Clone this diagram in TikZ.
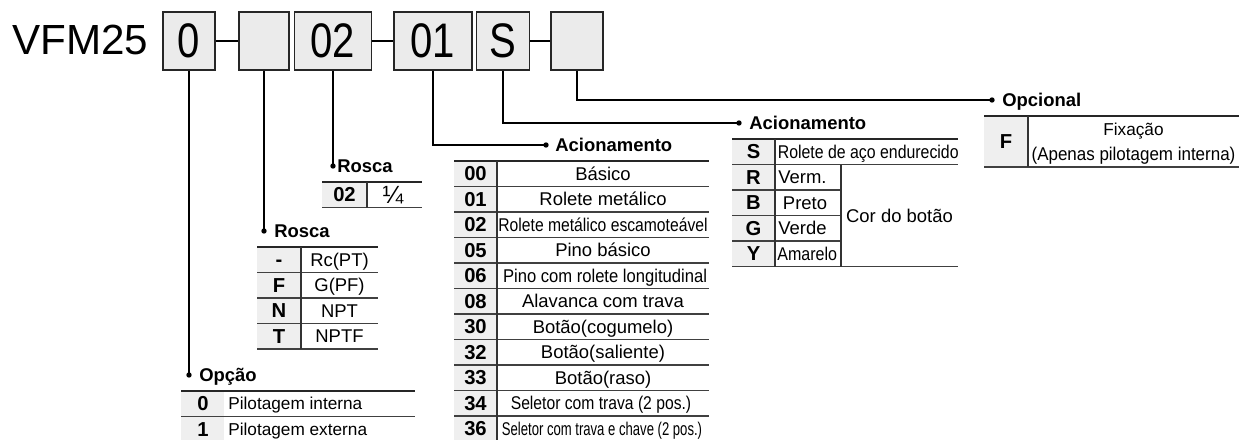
\documentclass[tikz,border=0pt]{standalone}
\usepackage{fontspec}
\setmainfont{Liberation Sans}
\usepackage{graphicx}
\usetikzlibrary{positioning}

\definecolor{boxfill}{HTML}{EBEBEB}
\definecolor{codefill}{HTML}{EFEFEF}

\newcommand{\tallnum}[1]{\scalebox{0.95}[1.15]{#1}}
\newcommand{\narrow}[2]{\scalebox{#1}[1]{#2}}

\tikzset{
  codebox/.style={draw=black!85,line width=1.1pt,fill=boxfill,inner sep=0pt,minimum height=1.16cm,font=\fontsize{24}{26}\selectfont},
  leader/.style={line width=1.1pt,black},
  hdr/.style={anchor=west,inner sep=0pt,text height=7.5pt,text depth=0pt,font=\fontsize{10.5}{12}\selectfont\bfseries},
  cd/.style={inner sep=0pt,text height=8pt,text depth=0pt,font=\fontsize{11.5}{13}\selectfont\bfseries},
  txt/.style={inner sep=0pt,text height=7.5pt,text depth=0pt,font=\fontsize{10.5}{12}\selectfont},
  smalltxt/.style={txt,text height=7pt,font=\fontsize{9.8}{12}\selectfont},
  toprule/.style={line width=1.5pt,black!85},
  midrule/.style={line width=0.6pt,black!75},
  colrule/.style={line width=0.8pt,black!80}
}

\begin{document}
\begin{tikzpicture}[x=0.02cm,y=-0.02cm]
\useasboundingbox (0,0) rectangle (1249,440);

\node[anchor=west,inner sep=0pt,font=\fontsize{24}{26}\selectfont] (model) at (12,40) {VFM25};
\node[codebox,minimum width=1.04cm] (b0) at (189,41) {\tallnum{0}};
\node[codebox,minimum width=1.0cm] (b1) at (264,41) {};
\node[codebox,minimum width=1.54cm] (b2) at (333,41) {\tallnum{02}};
\node[codebox,minimum width=1.56cm] (b3) at (433,41) {\tallnum{01}};
\node[codebox,minimum width=1.06cm] (b4) at (503,41) {\tallnum{S}};
\node[codebox,minimum width=1.04cm] (b5) at (577,41) {};
\draw[leader] (b0) -- (b1);
\draw[leader] (b2) -- (b3);
\draw[leader] (b4) -- (b5);

\coordinate (dOpcao) at (189,375);
\coordinate (dRoscaB) at (264,231);
\coordinate (dRoscaA) at (333,166);
\coordinate (dAcionA) at (546,145);
\coordinate (dAcionB) at (739,123);
\coordinate (dOpcional) at (992,100);
\draw[leader] (b0.south) -- (dOpcao);
\draw[leader] (b1.south) -- (dRoscaB);
\draw[leader] (b2.south) -- (dRoscaA);
\draw[leader] (b3.south) |- (dAcionA);
\draw[leader] (b4.south) |- (dAcionB);
\draw[leader] (b5.south) |- (dOpcional);
\fill (dOpcao) circle (2.7);
\fill (dRoscaB) circle (2.7);
\fill (dRoscaA) circle (2.7);
\fill (dAcionA) circle (2.7);
\fill (dAcionB) circle (2.7);
\fill (dOpcional) circle (2.7);
\node[hdr] (hOpcao) at (199,375) {Opção};
\node[hdr] (hRoscaB) at (274,231) {Rosca};
\node[hdr] (hRoscaA) at (337,166) {Rosca};
\node[hdr] (hAcionA) at (555,145) {Acionamento};
\node[hdr] (hAcionB) at (749,123) {Acionamento};
\node[hdr] (hOpcional) at (1002,100) {Opcional};

% Rosca (02)
\fill[codefill] (322,182) rectangle (367,207.5);
\draw[toprule] (322,182) -- (422,182);
\draw[midrule] (322,207.5) -- (422,207.5);
\draw[colrule] (367,182) -- (367,207.5);
\node[cd] (ra02) at (344.5,194.75) {02};
\node[inner sep=0pt,font=\fontsize{10.5}{12}\selectfont] (ra02t) at (393,194.75) {\scalebox{1.35}{¼}};

% Rosca (-, F, N, T)
\fill[codefill] (257,247) rectangle (301,349);
\draw[toprule] (257,247) -- (378,247);
\draw[midrule] (257,272.5) -- (378,272.5) (257,298) -- (378,298) (257,323.5) -- (378,323.5) (257,349) -- (378,349);
\draw[colrule] (301,247) -- (301,349);
\node[cd] (rbA) at (279,259.75) {-};
\node[cd] (rbF) at (279,285.25) {F};
\node[cd] (rbN) at (279,310.75) {N};
\node[cd] (rbT) at (279,336.25) {T};
\node[txt] (rbAt) at (339.5,259.75) {Rc(PT)};
\node[txt] (rbFt) at (339.5,285.25) {G(PF)};
\node[txt] (rbNt) at (339.5,310.75) {NPT};
\node[txt] (rbTt) at (339.5,336.25) {NPTF};

% Opcao
\fill[codefill] (181,391) rectangle (224,442);
\draw[toprule] (181,391) -- (415,391);
\draw[midrule] (181,416.5) -- (415,416.5);
\node[cd] (op0) at (203,403.75) {0};
\node[cd] (op1) at (203,429.25) {1};
\node[smalltxt,anchor=west] (op0t) at (228,403.75) {Pilotagem interna};
\node[smalltxt,anchor=west] (op1t) at (228,429.25) {Pilotagem externa};

% Acionamento (codigos 00 - 36)
\fill[codefill] (454,161) rectangle (497,442);
\draw[toprule] (454,161) -- (709,161);
\draw[midrule] (454,186.5) -- (709,186.5) (454,212) -- (709,212) (454,237.5) -- (709,237.5) (454,263) -- (709,263) (454,288.5) -- (709,288.5);
\draw[midrule] (454,314) -- (709,314) (454,339.5) -- (709,339.5) (454,365) -- (709,365) (454,390.5) -- (709,390.5) (454,416) -- (709,416);
\draw[colrule] (497,161) -- (497,442);
\node[cd] (ac00) at (475.5,173.75) {00};
\node[cd] (ac01) at (475.5,199.25) {01};
\node[cd] (ac02) at (475.5,224.75) {02};
\node[cd] (ac05) at (475.5,250.25) {05};
\node[cd] (ac06) at (475.5,275.75) {06};
\node[cd] (ac08) at (475.5,301.25) {08};
\node[cd] (ac30) at (475.5,326.75) {30};
\node[cd] (ac32) at (475.5,352.25) {32};
\node[cd] (ac33) at (475.5,377.75) {33};
\node[cd] (ac34) at (475.5,403.25) {34};
\node[cd] (ac36) at (475.5,428.75) {36};
\node[txt] (ac00t) at (603,173.75) {Básico};
\node[txt] (ac01t) at (603,199.25) {Rolete metálico};
\node[txt] (ac02t) at (603,224.75) {\narrow{0.85}{Rolete metálico escamoteável}};
\node[txt] (ac05t) at (603,250.25) {Pino básico};
\node[txt] (ac06t) at (605,275.75) {\narrow{0.9}{Pino com rolete longitudinal}};
\node[txt] (ac08t) at (603,301.25) {Alavanca com trava};
\node[txt] (ac30t) at (603,326.75) {Botão(cogumelo)};
\node[txt] (ac32t) at (603,352.25) {Botão(saliente)};
\node[txt] (ac33t) at (603,377.75) {Botão(raso)};
\node[txt] (ac34t) at (601,403.25) {\narrow{0.85}{Seletor com trava (2 pos.)}};
\node[txt] (ac36t) at (602,428.75) {\narrow{0.71}{Seletor com trava e chave (2 pos.)}};

% Acionamento (S, R, B, G, Y)
\fill[codefill] (732,139) rectangle (775,266.5);
\draw[toprule] (732,139) -- (958,139);
\draw[midrule] (732,164.5) -- (958,164.5) (732,266.5) -- (958,266.5);
\draw[midrule] (732,190) -- (841,190) (732,215.5) -- (841,215.5) (732,241) -- (841,241);
\draw[colrule] (775,139) -- (775,266.5) (841,164.5) -- (841,266.5);
\node[cd] (btS) at (753.5,151.75) {S};
\node[cd] (btR) at (753.5,177.25) {R};
\node[cd] (btB) at (753.5,202.75) {B};
\node[cd] (btG) at (753.5,228.25) {G};
\node[cd] (btY) at (753.5,253.75) {Y};
\node[txt,anchor=west] (btSt) at (777.5,151.75) {\narrow{0.86}{Rolete de aço endurecido}};
\node[txt,anchor=west] (btRt) at (778,177.25) {Verm.};
\node[txt] (btBt) at (805,202.75) {Preto};
\node[txt,anchor=west] (btGt) at (778,228.25) {Verde};
\node[txt,anchor=west] (btYt) at (777,253.75) {\narrow{0.87}{Amarelo}};
\node[txt] (cor) at (899.5,215.5) {Cor do botão};

% Opcional
\fill[codefill] (984,116) rectangle (1028,167);
\draw[toprule] (984,116) -- (1239,116);
\draw[midrule] (984,167) -- (1239,167);
\draw[colrule] (1028,116) -- (1028,167);
\node[cd] (opF) at (1006,141.5) {F};
\node[smalltxt] (opFa) at (1133.5,129) {Fixação};
\node[txt] (opFb) at (1133.5,154) {\narrow{0.92}{(Apenas pilotagem interna)}};
\end{tikzpicture}
\end{document}
